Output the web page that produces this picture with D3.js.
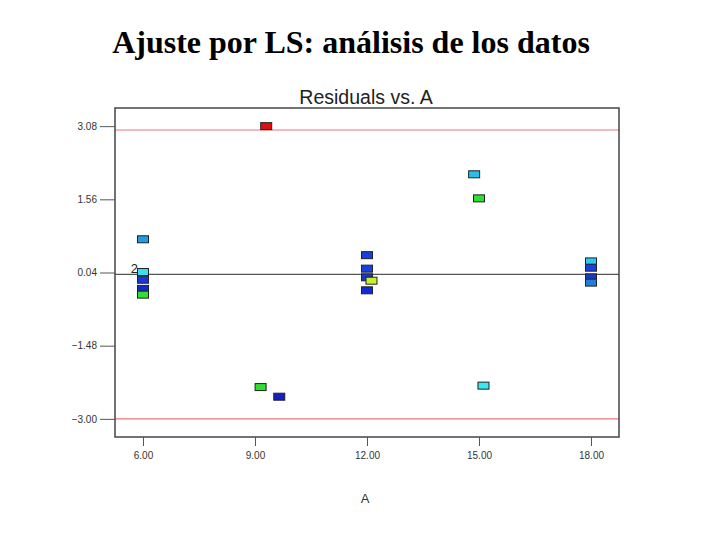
<!DOCTYPE html>
<html>
<head>
<meta charset="utf-8">
<script src="https://cdn.jsdelivr.net/npm/d3@7"></script>
<style>
  body { margin: 0; background: #fff; }
  svg { display: block; }
</style>
</head>
<body>
<svg id="chart"></svg>
<script>
// residuals vs factor A
var xVals = [6.0, 6.0, 6.0, 6.0, 6.0, 9.3, 9.15, 9.65, 12.0, 12.0, 12.0, 12.12, 12.0, 14.87, 15.0, 15.12, 18.0, 18.0, 18.0, 18.0]
var resid = [0.73, 0.05, -0.11, -0.30, -0.42, 3.08, -2.34, -2.54, 0.40, 0.12, -0.06, -0.13, -0.33, 2.08, 1.58, -2.31, 0.27, 0.14, -0.06, -0.17]
var ptColor = ['#1e9ee0', '#38e0f0', '#1a36d8', '#1428c8', '#30e030', '#e01010', '#30e030', '#1420c0',
	'#1a40e0', '#1a40e0', '#1a36c8', '#c8f030', '#1428d8', '#28c0e8', '#30e030', '#38e8f0',
	'#30c8f0', '#1a40e0', '#1a36d0', '#2080d8']
var yTicks = [3.08, 1.56, 0.04, -1.48, -3.00]
var xTicks = [6, 9, 12, 15, 18]
var limits = [3.0, -3.0]

var width = 720, height = 540
var plot = {left: 115, top: 108, right: 619, bottom: 437}

var svg = d3.select('#chart')
	.attr('width', width)
	.attr('height', height)

var x = d3.scaleLinear()
	.domain([5.25, 18.75])
	.range([plot.left, plot.right])

var y = d3.scaleLinear()
	.domain([-3.377, 3.457])
	.range([plot.bottom, plot.top])

// slide title
svg.append('text')
	.attr('x', 351)
	.attr('y', 53)
	.attr('text-anchor', 'middle')
	.style('font-family', '"Liberation Serif", "Times New Roman", serif')
	.style('font-weight', 'bold')
	.style('font-size', '32px')
	.text('Ajuste por LS: análisis de los datos')

// chart title
svg.append('text')
	.attr('x', 366)
	.attr('y', 104)
	.attr('text-anchor', 'middle')
	.style('font-family', '"Liberation Sans", Arial, sans-serif')
	.style('font-size', '19.5px')
	.style('fill', '#222')
	.text('Residuals vs. A')

// limit lines
svg.selectAll('.limit')
	.data(limits)
	.enter()
	.append('line')
		.attr('class', 'limit')
		.attr('x1', plot.left)
		.attr('x2', plot.right)
		.attr('y1', d => y(d))
		.attr('y2', d => y(d))
		.attr('stroke', '#e87878')
		.attr('stroke-width', 1.2)

// zero line
svg.append('line')
	.attr('x1', plot.left)
	.attr('x2', plot.right)
	.attr('y1', y(0))
	.attr('y2', y(0))
	.attr('stroke', '#555')
	.attr('stroke-width', 1.2)

// frame
svg.append('rect')
	.attr('x', plot.left)
	.attr('y', plot.top)
	.attr('width', plot.right - plot.left)
	.attr('height', plot.bottom - plot.top)
	.attr('fill', 'none')
	.attr('stroke', '#444')
	.attr('stroke-width', 1.5)

// axes
var yAxis = svg.append('g')
	.attr('transform', 'translate(' + plot.left + ',0)')
	.call(d3.axisLeft(y).tickValues(yTicks).tickFormat(d3.format('.2f')).tickSize(15).tickPadding(3))
yAxis.select('.domain').remove()

var xAxis = svg.append('g')
	.attr('transform', 'translate(0,' + plot.bottom + ')')
	.call(d3.axisBottom(x).tickValues(xTicks).tickFormat(d3.format('.2f')).tickSize(9).tickPadding(6))
xAxis.select('.domain').remove()

svg.selectAll('.tick line').attr('stroke', '#555')
svg.selectAll('.tick text')
	.style('font-family', '"Liberation Sans", Arial, sans-serif')
	.style('font-size', '10px')
	.style('fill', '#333')

svg.append('text')
	.attr('x', 365)
	.attr('y', 503)
	.attr('text-anchor', 'middle')
	.style('font-family', '"Liberation Sans", Arial, sans-serif')
	.style('font-size', '13px')
	.style('fill', '#333')
	.text('A')

// points
var pts = xVals.map((d, i) => ({a: d, r: resid[i], c: ptColor[i]}))
svg.selectAll('.pt')
	.data(pts)
	.enter()
	.append('rect')
		.attr('class', 'pt')
		.attr('x', d => x(d.a) - 5.5)
		.attr('y', d => y(d.r) - 3.5)
		.attr('width', 11)
		.attr('height', 7)
		.attr('fill', d => d.c)
		.attr('stroke', '#222')
		.attr('stroke-width', 1)

// multiplicity label
svg.append('text')
	.attr('x', x(6) - 5)
	.attr('y', y(0.05) + 1)
	.attr('text-anchor', 'end')
	.style('font-family', '"Liberation Sans", Arial, sans-serif')
	.style('font-size', '13px')
	.style('fill', '#222')
	.text('2')
</script>
</body>
</html>
